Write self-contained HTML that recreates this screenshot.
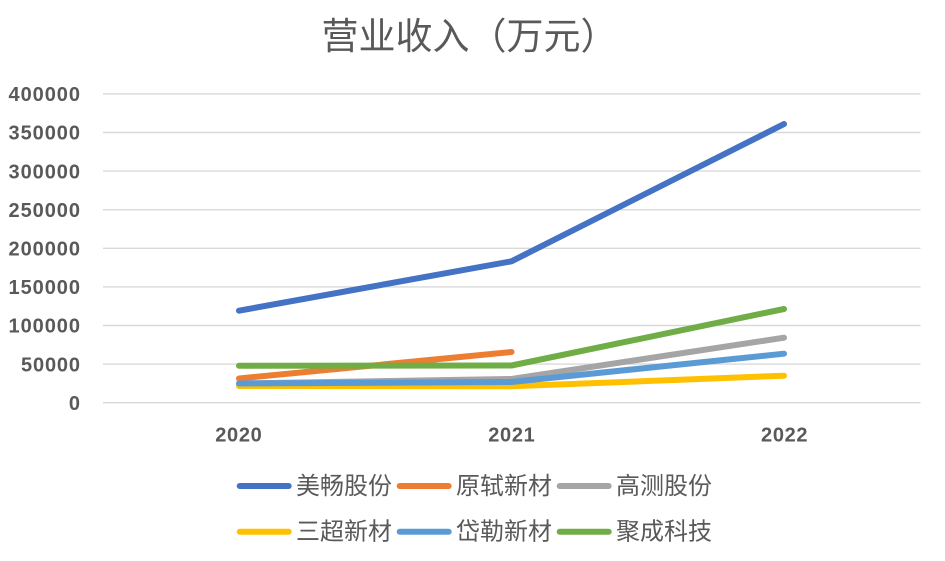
<!DOCTYPE html>
<html><head><meta charset="utf-8">
<style>
html,body{margin:0;padding:0;background:#fff;}
svg{display:block;}
.ax{font-family:"Liberation Sans",sans-serif;font-weight:bold;font-size:20px;fill:#595959;}
.cj{font-family:"Liberation Sans","Noto Sans CJK SC",sans-serif;fill:#595959;}
</style></head>
<body>
<svg width="945" height="561" viewBox="0 0 945 561" xmlns="http://www.w3.org/2000/svg">
<rect width="945" height="561" fill="#fff"/>
<text class="cj" x="321.5" y="49" font-size="37">营业收入（万元）</text>
<g stroke="#D9D9D9" stroke-width="1.4">
<line x1="103" x2="920.5" y1="402.7" y2="402.7"/>
<line x1="103" x2="920.5" y1="364.1" y2="364.1"/>
<line x1="103" x2="920.5" y1="325.5" y2="325.5"/>
<line x1="103" x2="920.5" y1="286.9" y2="286.9"/>
<line x1="103" x2="920.5" y1="248.3" y2="248.3"/>
<line x1="103" x2="920.5" y1="209.7" y2="209.7"/>
<line x1="103" x2="920.5" y1="171.1" y2="171.1"/>
<line x1="103" x2="920.5" y1="132.5" y2="132.5"/>
<line x1="103" x2="920.5" y1="93.9" y2="93.9"/>
</g>
<g class="ax" text-anchor="end">
<text x="80" y="409.9">0</text>
<text x="80" y="371.3" textLength="59" lengthAdjust="spacing">50000</text>
<text x="80" y="332.7" textLength="71.5" lengthAdjust="spacing">100000</text>
<text x="80" y="294.1" textLength="71.5" lengthAdjust="spacing">150000</text>
<text x="80" y="255.5" textLength="71.5" lengthAdjust="spacing">200000</text>
<text x="80" y="216.9" textLength="71.5" lengthAdjust="spacing">250000</text>
<text x="80" y="178.3" textLength="71.5" lengthAdjust="spacing">300000</text>
<text x="80" y="139.7" textLength="71.5" lengthAdjust="spacing">350000</text>
<text x="80" y="101.1" textLength="71.5" lengthAdjust="spacing">400000</text>
</g>
<g class="ax" text-anchor="middle">
<text x="238.5" y="441.3" textLength="46.5" lengthAdjust="spacing">2020</text>
<text x="511.5" y="441.3" textLength="46.5" lengthAdjust="spacing">2021</text>
<text x="784.3" y="441.3" textLength="46.5" lengthAdjust="spacing">2022</text>
</g>
<g fill="none" stroke-width="6" stroke-linecap="round" stroke-linejoin="round">
<polyline stroke="#4472C4" points="239,310.7 511.5,261.3 784,124"/>
<polyline stroke="#ED7D31" points="239,378.5 511.5,352"/>
<polyline stroke="#A5A5A5" points="239,383.5 511.5,379 784,337.7"/>
<polyline stroke="#FFC000" points="239,386 511.5,386.3 784,375.7"/>
<polyline stroke="#5B9BD5" points="239,383.5 511.5,382 784,353.7"/>
<polyline stroke="#70AD47" points="239,365.8 511.5,365.5 784,309"/>
</g>
<g stroke-width="6" stroke-linecap="round">
<line x1="239.7" x2="288.7" y1="486" y2="486" stroke="#4472C4"/>
<line x1="399.7" x2="448.7" y1="486" y2="486" stroke="#ED7D31"/>
<line x1="559.7" x2="608.7" y1="486" y2="486" stroke="#A5A5A5"/>
<line x1="239.7" x2="288.7" y1="531.7" y2="531.7" stroke="#FFC000"/>
<line x1="399.7" x2="448.7" y1="531.7" y2="531.7" stroke="#5B9BD5"/>
<line x1="559.7" x2="608.7" y1="531.7" y2="531.7" stroke="#70AD47"/>
</g>
<g class="cj" font-size="24">
<text x="296" y="494">美畅股份</text>
<text x="456" y="494">原轼新材</text>
<text x="616" y="494">高测股份</text>
<text x="296" y="539.6">三超新材</text>
<text x="456" y="539.6">岱勒新材</text>
<text x="616" y="539.6">聚成科技</text>
</g>
</svg>
</body></html>
